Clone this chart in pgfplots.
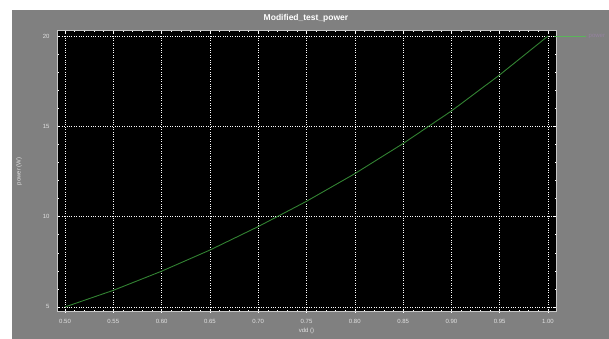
\documentclass[border=0pt]{standalone}
\usepackage{fontspec}
\setmainfont{Liberation Sans}
\usepackage{pgfplots}
\pgfplotsset{compat=1.18}
\definecolor{bggray}{RGB}{128,128,128}
\definecolor{curvegreen}{RGB}{50,130,50}
\definecolor{leggreen}{RGB}{90,180,90}
\definecolor{framegray}{RGB}{200,200,200}
\definecolor{ticktext}{RGB}{225,225,225}
\definecolor{legtext}{RGB}{150,130,160}
\begin{document}
\begin{tikzpicture}[x=1pt,y=1pt]
\useasboundingbox (0,0) rectangle (609,339);
\fill[white] (0,0) rectangle (609,339);
\fill[bggray] (12,0) rectangle (609,329);
\node[text=white,font=\fontsize{8.5}{9}\selectfont\bfseries] at (306,321) {Modified\_test\_power};
\begin{axis}[
  at={(57pt,27pt)}, anchor=south west,
  scale only axis, width=499pt, height=281pt,
  axis background/.style={fill=black},
  xmin=0.4917, xmax=1.0083, ymin=4.72, ymax=20.28,
  xtick={0.50,0.55,0.60,0.65,0.70,0.75,0.80,0.85,0.90,0.95,1.00},
  ytick={5,10,15,20},
  /pgf/number format/assume math mode=true,
  minor x tick num=4, minor y tick num=4,
  tick align=inside,
  major tick length=3pt, minor tick length=1.5pt,
  every tick/.style={white, line width=0.5pt},
  grid=major,
  major grid style={white, dotted, line width=0.6pt},
  axis line style={framegray, line width=1pt},
  tick label style={text=ticktext, font=\fontsize{6}{7}\selectfont},
  xticklabel style={yshift=-4pt, /pgf/number format/.cd, fixed, fixed zerofill, precision=2},
  yticklabel style={xshift=-4pt},
  xlabel={vdd ()}, ylabel={power (W)},
  label style={text=ticktext, font=\fontsize{6}{7}\selectfont},
  xlabel style={yshift=2pt},
  ylabel style={yshift=14pt},
  legend style={at={(1.0,1.0)}, anchor=north west, fill=none, draw=none,
    font=\fontsize{6}{7}\selectfont, text=legtext, xshift=-4pt, yshift=0pt,
    inner sep=1pt},
  legend cell align=left,
  legend image code/.code={\draw[leggreen, line width=1.5pt] (0pt,0pt) -- (32pt,0pt);},
]
\addplot[curvegreen, line width=0.9pt] coordinates {
 (0.50,5.00) (0.55,5.92) (0.60,6.98) (0.65,8.15) (0.70,9.45) (0.75,10.85)
 (0.80,12.38) (0.85,14.05) (0.90,15.85) (0.95,17.85) (1.00,20.00)
};
\addlegendentry{power}
\end{axis}
\end{tikzpicture}
\end{document}
